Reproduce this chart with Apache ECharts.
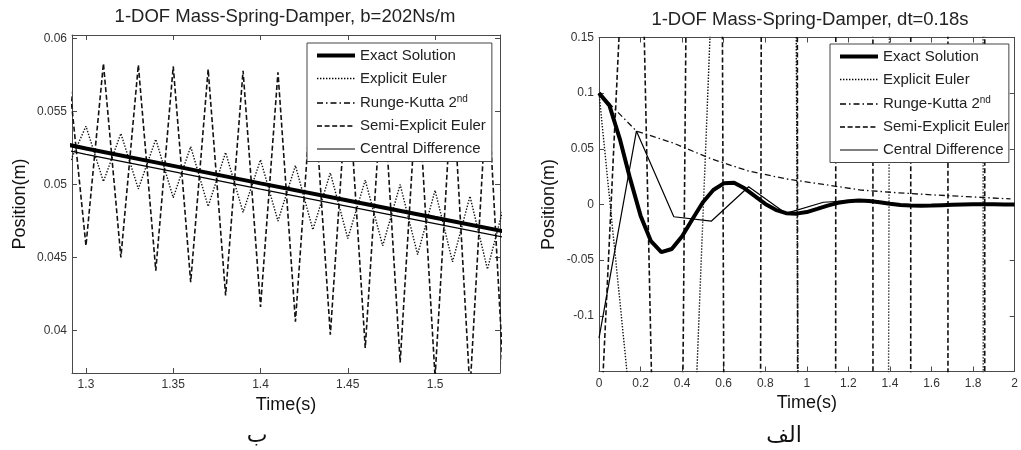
<!DOCTYPE html>
<html><head><meta charset="utf-8">
<script src="https://cdn.jsdelivr.net/npm/echarts@6/dist/echarts.min.js"></script>
<style>html,body{margin:0;padding:0;background:#fff}#c{width:1021px;height:450px}</style>
</head><body><div id="c"></div>
<script>
// ---------- names / text ----------
const seriesNames = ['Exact Solution', 'Explicit Euler', 'Runge-Kutta 2nd', 'Semi-Explicit Euler', 'Central Difference'];
const leftTitle = '1-DOF Mass-Spring-Damper, b=202Ns/m';
const rightTitle = '1-DOF Mass-Spring-Damper, dt=0.18s';
const xName = 'Time(s)';
const yName = 'Position(m)';
const leftCaption = 'ب';
const rightCaption = 'الف';

// ---------- left panel (zoomed window) ----------
const leftXRange = [1.292, 1.5372];
const leftYRange = [0.03708, 0.06025];
const leftXTicks = [1.3, 1.35, 1.4, 1.45, 1.5];
const leftYTicks = [0.04, 0.045, 0.05, 0.055, 0.06];

const leftSmoothTime = [1.29, 1.30, 1.35, 1.40, 1.45, 1.50, 1.54];
const leftExact   = [0.05272, 0.05247, 0.05128, 0.05008, 0.04890, 0.04772, 0.04678];
const leftRK2     = [0.05270, 0.05245, 0.05126, 0.05006, 0.04888, 0.04770, 0.04676];
const leftCentral = [0.05232, 0.05207, 0.05088, 0.04968, 0.04850, 0.04732, 0.04638];

const leftOscTime = [1.29, 1.30, 1.31, 1.32, 1.33, 1.34, 1.35, 1.36, 1.37, 1.38, 1.39, 1.40, 1.41,
                     1.42, 1.43, 1.44, 1.45, 1.46, 1.47, 1.48, 1.49, 1.50, 1.51, 1.52, 1.53, 1.54];
const leftExplicit = [0.0513, 0.0540, 0.0502, 0.0535, 0.0497, 0.0531, 0.0491, 0.0526, 0.0485, 0.0522,
                      0.0481, 0.0517, 0.0475, 0.0513, 0.0469, 0.0508, 0.0463, 0.0503, 0.0458, 0.0500,
                      0.0452, 0.0496, 0.0447, 0.0492, 0.0442, 0.0488];
const leftSemi = [0.0576, 0.0458, 0.0583, 0.0450, 0.0582, 0.0441, 0.0581, 0.0433, 0.0579, 0.0424,
                  0.0578, 0.0416, 0.0577, 0.0406, 0.0576, 0.0397, 0.0575, 0.0388, 0.0574, 0.0378,
                  0.0573, 0.0368, 0.0572, 0.0359, 0.0571, 0.0350];

// ---------- right panel (full run, dt = 0.18 s) ----------
const rightXRange = [0, 2];
const rightYRange = [-0.15, 0.15];
const rightExactTime = [0, 0.05, 0.10, 0.15, 0.20, 0.25, 0.30, 0.35, 0.40, 0.45, 0.50, 0.55, 0.60, 0.65,
                        0.70, 0.75, 0.80, 0.85, 0.90, 0.95, 1.00, 1.05, 1.10, 1.15, 1.20, 1.25, 1.30,
                        1.35, 1.40, 1.45, 1.50, 1.55, 1.60, 1.65, 1.70, 1.75, 1.80, 1.85, 1.90, 1.95, 2.00];
const rightExact = [0.1000, 0.0890, 0.0590, 0.0230, -0.0100, -0.0330, -0.0428, -0.0400, -0.0285, -0.0130,
                    0.0020, 0.0130, 0.0190, 0.0195, 0.0145, 0.0075, 0.0005, -0.0048, -0.0078, -0.0082,
                    -0.0068, -0.0040, -0.0010, 0.0015, 0.0030, 0.0035, 0.0032, 0.0020, 0.0006, -0.0004,
                    -0.0010, -0.0012, -0.0010, -0.0006, -0.0002, 0.0001, 0.0003, 0.0003, 0.0002, 0.0001, 0.0000];
const rightStepTime = [0, 0.18, 0.36, 0.54, 0.72, 0.90, 1.08, 1.26, 1.44, 1.62, 1.80, 1.98];
const rightExplicit = [0.1, -0.235, -0.68, 0.179, 1.0, 1.97, -4.7, -10, 3.3, 20, 22, -60];
const rightRK2      = [0.100, 0.066, 0.055, 0.041, 0.030, 0.023, 0.018, 0.013, 0.0105, 0.0085, 0.0068, 0.0050];
const rightSemi     = [-0.229, 0.48, -1.09, 2.76, -5.95, 12.2, -27.7, 56.7, -119, 238, -488, 1080];
const rightCentral  = [-0.120, 0.066, -0.011, -0.015, 0.016, -0.008, 0.002, 0.004, -0.0005, -0.001, 0.0, 0.0];

// ---------- helpers ----------
const FONT = '"Liberation Sans", Arial, sans-serif';
const zip = (t, v) => t.map((x, i) => [x, v[i]]);
const AX = '#4a4a4a';

const styles = {
  'Exact Solution':      { width: 4,   type: 'solid', color: '#000' },
  'Explicit Euler':      { width: 1.4, type: [1.4, 1.6], color: '#111' },
  'Runge-Kutta 2nd':     { width: 1.3, type: [6, 3, 1.5, 3], color: '#111' },
  'Semi-Explicit Euler': { width: 1.6, type: [5, 2.6], color: '#111' },
  'Central Difference':  { width: 1.2, type: 'solid', color: '#000' }
};

function mkSeries(name, data, xi, yi, z) {
  return {
    type: 'line', name: name, data: data, xAxisIndex: xi, yAxisIndex: yi,
    symbol: 'circle', showSymbol: false, symbolSize: 0, silent: true, animation: false, z: z, clip: true,
    lineStyle: { width: styles[name].width, type: styles[name].type, color: styles[name].color },
    itemStyle: { color: styles[name].color }
  };
}

function bottomX(gi, range, extra) {
  return Object.assign({
    type: 'value', gridIndex: gi, position: 'bottom', min: range[0], max: range[1],
    name: xName, nameLocation: 'middle',
    nameTextStyle: { fontFamily: FONT, fontSize: 18, color: '#111' },
    axisLine: { show: true, onZero: false, lineStyle: { color: AX, width: 1 } },
    axisTick: { show: true, inside: true, length: 5, lineStyle: { color: AX } },
    axisLabel: { fontFamily: FONT, fontSize: 12, color: '#333', margin: 6, alignMaxLabel: 'center' },
    splitLine: { show: false }
  }, extra);
}
function topX(gi, range, extra) {
  return Object.assign({
    type: 'value', gridIndex: gi, position: 'top', min: range[0], max: range[1],
    axisLine: { show: true, onZero: false, lineStyle: { color: AX, width: 1 } },
    axisTick: { show: true, inside: true, length: 5, lineStyle: { color: AX } },
    axisLabel: { show: false },
    splitLine: { show: false }
  }, extra);
}
function leftY(gi, range, extra) {
  return Object.assign({
    type: 'value', gridIndex: gi, position: 'left', min: range[0], max: range[1],
    name: yName, nameLocation: 'middle', nameRotate: 90,
    nameTextStyle: { fontFamily: FONT, fontSize: 18, color: '#111' },
    axisLine: { show: true, onZero: false, lineStyle: { color: AX, width: 1 } },
    axisTick: { show: true, inside: true, length: 5, lineStyle: { color: AX } },
    axisLabel: { fontFamily: FONT, fontSize: 12, color: '#333', margin: 5 },
    splitLine: { show: false }
  }, extra);
}
function rightY(gi, range, extra) {
  return Object.assign({
    type: 'value', gridIndex: gi, position: 'right', min: range[0], max: range[1],
    axisLine: { show: true, onZero: false, lineStyle: { color: AX, width: 1 } },
    axisTick: { show: true, inside: true, length: 5, lineStyle: { color: AX } },
    axisLabel: { show: false },
    splitLine: { show: false }
  }, extra);
}

function mkLegend(left, top, padding) {
  return {
    orient: 'vertical', left: left, top: top, data: seriesNames,
    itemWidth: 38, itemHeight: 14, itemGap: 8, padding: padding,
    backgroundColor: '#fff', borderColor: '#444', borderWidth: 1, borderRadius: 0,
    selectedMode: false, z: 10,
    lineStyle: { width: 'inherit', type: 'inherit', color: '#000' },
    itemStyle: { color: 'rgba(0,0,0,0)', borderWidth: 0, borderColor: 'rgba(0,0,0,0)', opacity: 0 },
    textStyle: {
      fontFamily: FONT, fontSize: 15, color: '#222',
      rich: {
        n: { fontFamily: FONT, fontSize: 15, color: '#222', lineHeight: 18 },
        s: { fontFamily: FONT, fontSize: 10, color: '#222', verticalAlign: 'top', lineHeight: 18 }
      }
    },
    formatter: function (name) {
      return name === 'Runge-Kutta 2nd' ? '{n|Runge-Kutta 2}{s|nd}' : name;
    }
  };
}

const option = {
  backgroundColor: '#fff',
  animation: false,
  grid: [
    { left: 72, top: 35, width: 428, height: 338 },
    { left: 599, top: 37.5, width: 421, height: 334 }
  ],
  xAxis: [
    bottomX(0, leftXRange, { nameGap: 23,
      axisTick: { show: true, inside: true, length: 5, lineStyle: { color: AX }, customValues: leftXTicks },
      axisLabel: { fontFamily: FONT, fontSize: 12, color: '#333', margin: 6, customValues: leftXTicks } }),
    topX(0, leftXRange, {
      axisTick: { show: true, inside: true, length: 5, lineStyle: { color: AX }, customValues: leftXTicks } }),
    bottomX(1, rightXRange, { interval: 0.2, nameGap: 15 }),
    topX(1, rightXRange, { interval: 0.2 })
  ],
  yAxis: [
    leftY(0, leftYRange, { nameGap: 43,
      axisTick: { show: true, inside: true, length: 5, lineStyle: { color: AX }, customValues: leftYTicks },
      axisLabel: { fontFamily: FONT, fontSize: 12, color: '#333', margin: 5, customValues: leftYTicks } }),
    rightY(0, leftYRange, {
      axisTick: { show: true, inside: true, length: 5, lineStyle: { color: AX }, customValues: leftYTicks } }),
    leftY(1, rightYRange, { interval: 0.05, nameGap: 41,
      axisLabel: { fontFamily: FONT, fontSize: 12, color: '#333', margin: 5, showMinLabel: false } }),
    rightY(1, rightYRange, { interval: 0.05 })
  ],
  legend: [
    mkLegend(307, 43, [5, 6, 5, 8]),
    mkLegend(830, 44, [5, 0, 5, 8])
  ],
  graphic: [
    { type: 'text', x: 285, y: 17, silent: true,
      style: { text: leftTitle, align: 'center', verticalAlign: 'middle', font: '18.5px ' + FONT, fill: '#222' } },
    { type: 'text', x: 810, y: 20, silent: true,
      style: { text: rightTitle, align: 'center', verticalAlign: 'middle', font: '18.5px ' + FONT, fill: '#222' } },
    { type: 'text', x: 257, y: 436, silent: true,
      style: { text: leftCaption, align: 'center', verticalAlign: 'middle', font: '22px "DejaVu Sans"', fill: '#111' } },
    { type: 'text', x: 784, y: 436, silent: true,
      style: { text: rightCaption, align: 'center', verticalAlign: 'middle', font: '22px "DejaVu Sans"', fill: '#111' } }
  ],
  series: [
    // left panel
    mkSeries('Semi-Explicit Euler', zip(leftOscTime, leftSemi), 0, 0, 2),
    mkSeries('Explicit Euler', zip(leftOscTime, leftExplicit), 0, 0, 3),
    mkSeries('Central Difference', zip(leftSmoothTime, leftCentral), 0, 0, 4),
    mkSeries('Runge-Kutta 2nd', zip(leftSmoothTime, leftRK2), 0, 0, 4),
    mkSeries('Exact Solution', zip(leftSmoothTime, leftExact), 0, 0, 5),
    // right panel
    mkSeries('Semi-Explicit Euler', zip(rightStepTime, rightSemi), 2, 2, 2),
    mkSeries('Explicit Euler', zip(rightStepTime, rightExplicit), 2, 2, 3),
    mkSeries('Runge-Kutta 2nd', zip(rightStepTime, rightRK2), 2, 2, 4),
    mkSeries('Central Difference', zip(rightStepTime, rightCentral), 2, 2, 4),
    mkSeries('Exact Solution', zip(rightExactTime, rightExact), 2, 2, 5)
  ]
};

const chart = echarts.init(document.getElementById('c'), null, { renderer: 'canvas' });
chart.setOption(option);
</script>
</body></html>
